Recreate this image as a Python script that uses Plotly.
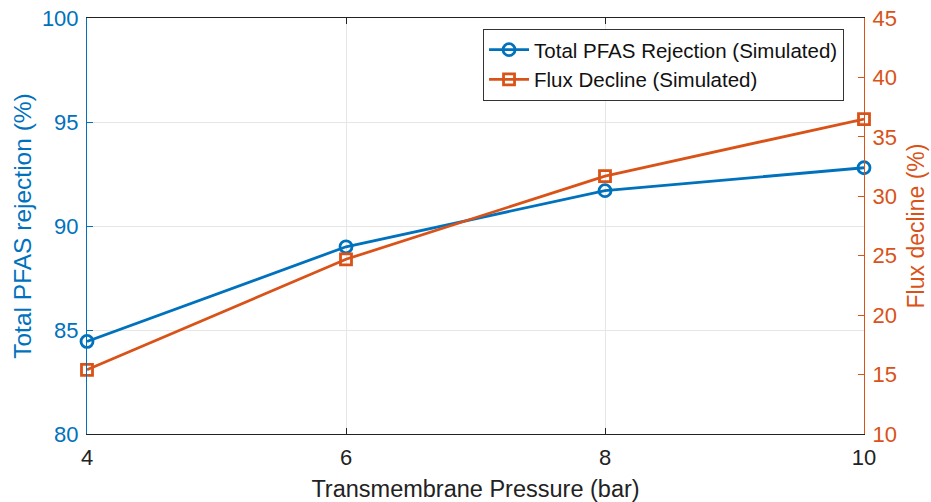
import plotly.graph_objects as go

pressure = [4, 6, 8, 10]
rejection = [84.45, 89.0, 91.7, 92.8]
flux_decline = [15.4, 24.7, 31.7, 36.5]

x_ticks = [4, 6, 8, 10]
y_ticks = [80, 85, 90, 95, 100]
y2_ticks = [10, 15, 20, 25, 30, 35, 40, 45]

BLUE = "#0072BD"
ORANGE = "#D95319"
FONT = "Liberation Sans, Arial, sans-serif"

fig = go.Figure()
fig.add_trace(go.Scatter(
    x=pressure, y=rejection, mode="lines+markers",
    name="Total PFAS Rejection (Simulated)",
    line=dict(color=BLUE, width=2.8), cliponaxis=False,
    marker=dict(symbol="circle-open", size=12, color=BLUE, line=dict(width=2.8)),
    yaxis="y"))
fig.add_trace(go.Scatter(
    x=pressure, y=flux_decline, mode="lines+markers",
    name="Flux Decline (Simulated)",
    line=dict(color=ORANGE, width=2.8), cliponaxis=False,
    marker=dict(symbol="square-open", size=11, color=ORANGE, line=dict(width=2.8)),
    yaxis="y2"))

fig.update_layout(
    width=931, height=502,
    margin=dict(l=87, r=67, t=18, b=68, autoexpand=False),
    paper_bgcolor="white", plot_bgcolor="white",
    font=dict(family=FONT, size=18, color="#222"),
    showlegend=True,
    legend=dict(x=0.5097, y=0.974, xanchor="left", yanchor="top",
                bgcolor="white", bordercolor="#333", borderwidth=1,
                font=dict(size=20.5, color="#111"), tracegroupgap=0,
                itemwidth=40),
    xaxis=dict(range=[4, 10], tickvals=x_ticks, ticks="inside", ticklen=6,
               tickcolor="#222", showline=True, linecolor="#222", linewidth=1,
               mirror="ticks", showgrid=True, gridcolor="#e6e6e6",
               zeroline=False, tickfont=dict(size=22, color="#222"),
               ticklabelstandoff=4, automargin=False,
               title=dict(text="Transmembrane Pressure (bar)", standoff=12,
                          font=dict(size=23.5, color="#222"))),
    yaxis=dict(range=[80, 100], tickvals=y_ticks, ticks="inside", ticklen=6,
               tickcolor=BLUE, showline=True, linecolor=BLUE, linewidth=1,
               showgrid=True, gridcolor="#e6e6e6", zeroline=False,
               tickfont=dict(size=22, color=BLUE), ticklabelstandoff=3,
               automargin=False,
               title=dict(text="Total PFAS rejection (%)", standoff=3,
                          font=dict(size=24.5, color=BLUE))),
    yaxis2=dict(range=[10, 45], tickvals=y2_ticks, ticks="inside", ticklen=6,
                tickcolor=ORANGE, showline=True, linecolor=ORANGE, linewidth=1,
                overlaying="y", side="right", showgrid=False, zeroline=False,
                tickfont=dict(size=22, color=ORANGE), ticklabelstandoff=3,
                automargin=False,
                title=dict(text="Flux decline (%)", standoff=12,
                           font=dict(size=23, color=ORANGE))),
)

fig.write_html("out.html")
